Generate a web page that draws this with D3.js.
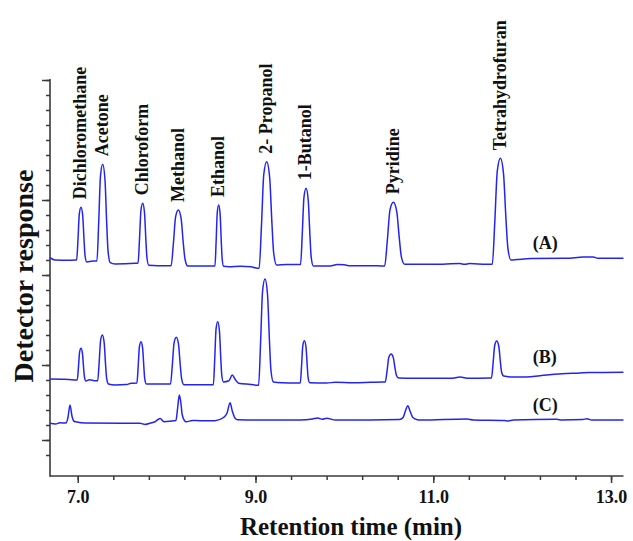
<!DOCTYPE html>
<html><head><meta charset="utf-8">
<script src="https://cdn.jsdelivr.net/npm/d3@7"></script>
<style>body{margin:0;background:#fff}</style>
</head><body><svg id="c" width="633" height="541"></svg>
<script>
// ---- data (retention time in min, detector response in arbitrary units) ----
const traceA = [[6.688,14.15],[6.745,14.0],[6.913,13.98],[6.96,14.0],
[6.988,14.0],[7.003,15.40],[7.018,17.09],[7.037,17.51],[7.056,16.96],[7.071,15.33],[7.082,14.31],[7.101,13.87],
[7.172,13.93],
[7.216,13.93],[7.236,16.51],[7.256,19.61],[7.281,20.38],[7.306,19.40],[7.326,16.44],[7.341,14.61],[7.366,13.82],
[7.42,13.73],[7.645,13.78],
[7.679,13.8],[7.695,15.39],[7.711,17.30],[7.731,17.78],[7.751,17.16],[7.767,15.30],[7.779,14.15],[7.799,13.65],
[7.9,13.62],[8.0,13.62],
[8.051,13.62],[8.076,15.10],[8.101,16.88],[8.132,17.33],[8.163,16.77],[8.188,15.09],[8.207,14.05],[8.238,13.6],
[8.35,13.6],[8.5,13.6],
[8.544,13.6],[8.557,15.23],[8.570,17.18],[8.586,17.67],[8.602,17.06],[8.615,15.22],[8.625,14.07],[8.641,13.58],
[8.7,13.55],[8.83,13.58],[8.95,13.55],[9.02,13.45],
[9.041,13.45],[9.067,16.29],[9.093,19.70],[9.126,20.55],[9.159,19.52],[9.185,16.42],[9.204,14.50],[9.237,13.67],
[9.35,13.7],[9.49,13.7],
[9.507,13.7],[9.526,15.73],[9.545,18.17],[9.569,18.78],[9.593,18.0],[9.612,15.67],[9.626,14.22],[9.65,13.6],
[9.84,13.6],[9.92,13.7],[10.0,13.68],[10.05,13.62],[10.35,13.62],[10.41,13.6],
[10.453,13.6],[10.483,15.30],[10.513,17.34],[10.551,17.85],[10.589,17.23],[10.619,15.37],[10.641,14.21],[10.679,13.71],
[11.0,13.71],[11.3,13.76],[11.35,13.71],[11.41,13.76],[11.6,13.71],
[11.664,13.71],[11.692,16.54],[11.72,19.93],[11.755,20.78],[11.79,19.76],[11.818,16.71],[11.839,14.81],[11.874,14.0],
[11.94,14.03],[12.1,14.1],[12.5,14.11],[12.69,14.2],[12.8,14.2],[12.85,14.11],[13.14,14.11]];

const traceB = [[6.688,6.07],[6.85,6.05],[6.96,6.0],
[6.995,6.0],[7.008,6.84],[7.021,7.86],[7.037,8.11],[7.053,7.78],[7.066,6.80],[7.076,6.19],[7.092,5.93],
[7.13,6.02],[7.2,5.95],
[7.225,5.95],[7.241,7.17],[7.257,8.63],[7.277,9.0],[7.297,8.51],[7.313,7.04],[7.325,6.12],[7.345,5.73],
[7.42,5.67],[7.55,5.7],[7.6,5.78],
[7.666,5.8],[7.68,6.9],[7.694,8.22],[7.712,8.55],[7.73,8.13],[7.744,6.86],[7.754,6.07],[7.772,5.73],
[7.9,5.73],[8.0,5.73],
[8.044,5.73],[8.064,6.98],[8.084,8.48],[8.109,8.85],[8.134,8.38],[8.154,6.95],[8.169,6.07],[8.194,5.69],
[8.35,5.69],[8.5,5.69],
[8.526,5.69],[8.541,7.37],[8.556,9.39],[8.575,9.89],[8.594,9.29],[8.609,7.48],[8.62,6.35],[8.639,5.87],
[8.7,5.95],[8.739,6.33],[8.77,6.05],[8.81,5.78],[8.95,5.7],[9.02,5.65],
[9.035,5.65],[9.057,8.48],[9.079,11.88],[9.107,12.73],[9.135,11.70],[9.157,8.61],[9.173,6.69],[9.201,5.87],
[9.3,5.82],[9.47,5.8],
[9.504,5.8],[9.518,6.93],[9.532,8.28],[9.55,8.62],[9.568,8.20],[9.582,6.94],[9.592,6.16],[9.61,5.82],
[9.8,5.8],[9.9,5.85],[10.1,5.82],[10.3,5.85],[10.43,5.87],
[10.46,5.87],[10.48,6.61],[10.5,7.51],[10.525,7.73],[10.55,7.49],[10.57,6.77],[10.585,6.32],[10.61,6.13],
[10.8,6.11],[11.2,6.11],[11.3,6.2],[11.4,6.11],[11.63,6.13],
[11.655,6.13],[11.673,7.12],[11.691,8.3],[11.714,8.6],[11.737,8.25],[11.755,7.20],[11.768,6.55],[11.791,6.27],
[11.9,6.2],[12.05,6.2],[12.2,6.29],[12.45,6.42],[12.65,6.47],[12.75,6.5],[13.14,6.51]];

const traceC = [[6.688,3.11],[6.75,3.07],[6.8,3.15],[6.868,3.13],[6.89,3.5],[6.913,4.33],[6.935,3.6],[6.958,3.25],
[6.99,3.2],[7.082,3.13],[7.5,3.11],[7.7,3.11],[7.76,3.04],[7.82,3.13],[7.87,3.22],[7.926,3.44],[7.97,3.22],
[8.06,3.27],[8.105,3.3],[8.125,4.2],[8.143,5.0],[8.16,4.5],[8.175,3.7],[8.2,3.3],[8.22,3.22],[8.29,3.3],
[8.376,3.29],[8.545,3.29],[8.64,3.5],[8.68,3.8],[8.714,4.49],[8.74,3.9],[8.77,3.45],[8.8,3.35],[9.0,3.33],
[9.5,3.33],[9.64,3.4],[9.7,3.47],[9.75,3.38],[9.8,3.45],[9.9,3.33],[10.29,3.33],[10.62,3.36],[10.66,3.5],
[10.69,4.0],[10.713,4.29],[10.74,3.9],[10.77,3.5],[10.82,3.35],[10.86,3.33],[11.38,3.4],[11.45,3.33],
[11.8,3.3],[11.84,3.27],[11.9,3.33],[12.39,3.38],[12.45,3.33],[12.68,3.36],[12.73,3.42],[12.78,3.33],[13.14,3.33]];

const compoundNames = ["Dichloromethane","Acetone","Chloroform","Methanol","Ethanol","2- Propanol","1-Butanol","Pyridine","Tetrahydrofuran"];
const compoundTimes = [7.037,7.281,7.731,8.132,8.586,9.126,9.569,10.551,11.755];
const compoundPeaks = [17.51,20.38,17.78,17.33,17.67,20.55,18.78,17.85,20.78];

const seriesNames = ["(A)","(B)","(C)"];
const seriesLabelTime = 12.12;

const xMajorTicks = [7,9,11,13];
const xMinorTicks = [7,7.4,7.8,8.2,8.6,9,9.4,9.8,10.2,10.6,11,11.4,11.8,12.2,12.6,13];
const yMajorTicks = [2,7,13,18,26];
const yMinorTicks = d3.range(1,27);

// ---- drawing ----
const svg = d3.select("#c");
const font = "'Liberation Serif','Times New Roman',serif";
const axisColor = "#3a3a3a";
const lineColor = "#2424f2";

const x = d3.scaleLinear().domain([6.688,13.14]).range([50,623.5]);
const y = d3.scaleLinear().domain([-0.4,26]).range([476,80]);

// x axis
const gx = svg.append("g").attr("transform","translate(0,476)");
gx.append("g").call(d3.axisBottom(x).tickValues(xMinorTicks).tickSize(4).tickFormat(""))
  .call(g=>g.select(".domain").remove());
gx.append("g").call(d3.axisBottom(x).tickValues(xMajorTicks).tickSize(7).tickPadding(7).tickFormat(d3.format(".1f")))
  .call(g=>g.select(".domain").remove());
gx.selectAll("line").attr("stroke",axisColor).attr("stroke-width",1.5);
gx.selectAll("text").attr("font-family",font).attr("font-weight","bold").attr("font-size",18).attr("fill","#111");
gx.append("line").attr("x1",50).attr("x2",623.5).attr("y1",0).attr("y2",0)
  .attr("stroke",axisColor).attr("stroke-width",1.6);

// y axis
const gy = svg.append("g").attr("transform","translate(50,0)");
gy.append("g").call(d3.axisLeft(y).tickValues(yMinorTicks).tickSize(4).tickFormat(""))
  .call(g=>g.select(".domain").remove());
gy.append("g").call(d3.axisLeft(y).tickValues(yMajorTicks).tickSize(8).tickFormat(""))
  .call(g=>g.select(".domain").remove());
gy.selectAll("line").attr("stroke",axisColor).attr("stroke-width",1.5);
gy.append("line").attr("x1",0).attr("x2",0).attr("y1",79).attr("y2",476.8)
  .attr("stroke",axisColor).attr("stroke-width",1.6);

// traces
const line = d3.line().x(d=>x(d[0])).y(d=>y(d[1])).curve(d3.curveMonotoneX);
const traces = [traceA, traceB, traceC];
svg.append("g").selectAll("path").data(traces).join("path")
  .attr("d",line).attr("fill","none").attr("stroke",lineColor)
  .attr("stroke-width",1.5).attr("stroke-linejoin","round");

// compound labels
svg.append("g").selectAll("text").data(compoundNames).join("text")
  .attr("transform",(d,i)=>`translate(${x(compoundTimes[i])-1},${y(compoundPeaks[i])-8}) rotate(-90)`)
  .attr("dy","0.35em").attr("text-anchor","start")
  .attr("font-family",font).attr("font-weight","bold").attr("font-size",18).attr("fill","#111")
  .text(d=>d);

// series labels
svg.append("g").selectAll("text").data(seriesNames).join("text")
  .attr("x",x(seriesLabelTime))
  .attr("y",(d,i)=>y(traces[i][traces[i].length-1][1])-9)
  .attr("font-family",font).attr("font-weight","bold").attr("font-size",18).attr("fill","#111")
  .text(d=>d);

// axis titles
svg.append("text").attr("x",351).attr("y",534.5).attr("text-anchor","middle")
  .attr("font-family",font).attr("font-weight","bold").attr("font-size",25).attr("fill","#111")
  .text("Retention time (min)");
svg.append("text").attr("transform","translate(33,276) rotate(-90)").attr("text-anchor","middle")
  .attr("font-family",font).attr("font-weight","bold").attr("font-size",28).attr("fill","#111")
  .text("Detector response");
</script>
</body></html>
